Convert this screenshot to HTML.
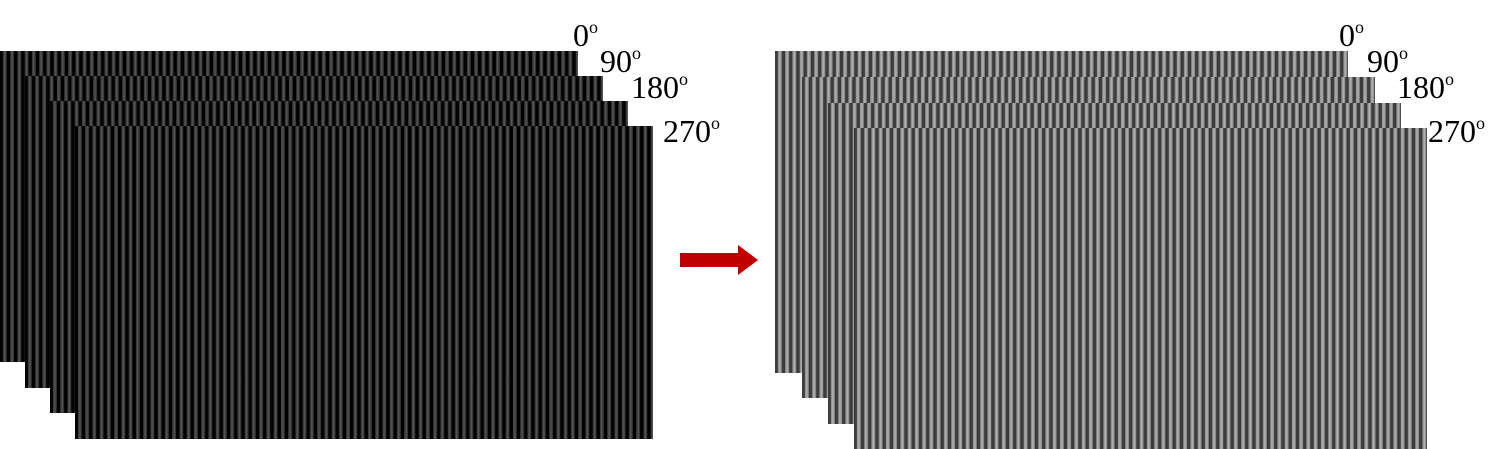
<!DOCTYPE html>
<html><head><meta charset="utf-8"><style>
body{margin:0;width:1506px;height:449px;background:#fff;position:relative;overflow:hidden;font-family:"Liberation Serif",serif}
.r{position:absolute;border:0}
.d{background:repeating-linear-gradient(90deg,#000 0px,#000 2.5px,#333 3.2px,#555 4.8px,#333 6.4px,#000 7.25px)}
.l{background:repeating-linear-gradient(90deg,#3c3c3c 0px,#3c3c3c 2.5px,#888 3.2px,#b4b4b4 4.8px,#888 6.4px,#3c3c3c 7.25px)}
.t{position:absolute;font-size:32px;color:#000;line-height:1}
.t sup{font-size:18px;vertical-align:13px}
</style></head><body>
<div class="r d" style="left:0;top:51px;width:578px;height:311px"></div>
<div class="r d" style="left:25px;top:76px;width:578px;height:312px"></div>
<div class="r d" style="left:50px;top:101px;width:578px;height:312px"></div>
<div class="r d" style="left:75px;top:126px;width:578px;height:313px"></div>
<div class="t" style="left:573px;top:18px">0<sup>o</sup></div>
<div class="t" style="left:600px;top:44px">90<sup>o</sup></div>
<div class="t" style="left:631px;top:70px">180<sup>o</sup></div>
<div class="t" style="left:663px;top:114px">270<sup>o</sup></div>
<svg style="position:absolute;left:678px;top:243px" width="82" height="34"><rect x="2" y="10" width="62" height="14" fill="#c00000"/><polygon points="60,2 80,17 60,32" fill="#c00000"/></svg>
<div class="r l" style="left:775px;top:51px;width:573px;height:322px"></div>
<div class="r l" style="left:802px;top:77px;width:573px;height:321px"></div>
<div class="r l" style="left:828px;top:103px;width:573px;height:321px"></div>
<div class="r l" style="left:854px;top:128px;width:573px;height:321px"></div>
<div class="t" style="left:1339px;top:18px">0<sup>o</sup></div>
<div class="t" style="left:1367px;top:44px">90<sup>o</sup></div>
<div class="t" style="left:1397px;top:70px">180<sup>o</sup></div>
<div class="t" style="left:1428px;top:114px">270<sup>o</sup></div>
</body></html>
